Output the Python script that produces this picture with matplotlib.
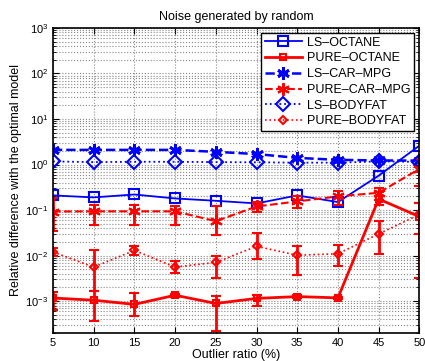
import numpy as np
import matplotlib
matplotlib.use('Agg')
from matplotlib import pyplot as plt
from matplotlib.ticker import LogLocator, NullFormatter, FixedLocator

plt.rcParams['font.family'] = ['Liberation Sans', 'DejaVu Sans']

ratio = [5, 10, 15, 20, 25, 30, 35, 40, 45, 50]

ls_octane = [0.21, 0.19, 0.22, 0.18, 0.16, 0.14, 0.21, 0.15, 0.57, 2.6]
ls_carmpg = [2.1, 2.1, 2.1, 2.1, 1.9, 1.7, 1.4, 1.27, 1.23, 1.22]
ls_bodyfat = [1.17, 1.13, 1.15, 1.15, 1.13, 1.12, 1.1, 1.1, 1.17, 1.15]

pure_octane = [0.00117, 0.00105, 0.00085, 0.00135, 0.00089, 0.00115, 0.00126, 0.00118, 0.175, 0.072]
pure_octane_lo = [0.00065, 0.00037, 0.00047, 0.00125, 0.00022, 0.0008, 0.00118, 0.0011, 0.13, 0.0033]
pure_octane_hi = [0.0016, 0.0017, 0.0015, 0.00145, 0.0013, 0.0014, 0.00134, 0.00126, 0.25, 0.14]

pure_carmpg = [0.093, 0.094, 0.094, 0.094, 0.057, 0.12, 0.155, 0.2, 0.24, 0.8]
pure_carmpg_lo = [0.034, 0.046, 0.046, 0.046, 0.028, 0.093, 0.11, 0.13, 0.17, 0.33]
pure_carmpg_hi = [0.18, 0.13, 0.13, 0.12, 0.125, 0.15, 0.2, 0.26, 0.31, 1.3]

pure_bodyfat = [0.012, 0.0056, 0.013, 0.0056, 0.0071, 0.016, 0.0102, 0.011, 0.030, 0.08]
pure_bodyfat_lo = [0.0098, 0.0017, 0.0105, 0.0042, 0.0033, 0.0085, 0.0037, 0.0058, 0.0106, 0.03]
pure_bodyfat_hi = [0.015, 0.013, 0.016, 0.0078, 0.01, 0.031, 0.016, 0.0167, 0.058, 0.14]

yticks = [1e-3, 1e-2, 1e-1, 1e0, 1e1, 1e2, 1e3]


def yerr(v, lo, hi):
    v = np.array(v)
    return [v - np.array(lo), np.array(hi) - v]


asterisk = (6, 2, 0)

fig = plt.figure(figsize=(4.25, 3.61), dpi=100)
ax = fig.add_axes([0.1247, 0.0776, 0.862, 0.845])

h1, = ax.plot(ratio, ls_octane, color='blue', ls='-', lw=1.3, marker='s', ms=7,
              mfc='none', mew=1.5, label='LS\u2013OCTANE')
e2 = ax.errorbar(ratio, pure_octane, yerr=yerr(pure_octane, pure_octane_lo, pure_octane_hi),
                 color='red', ls='-', lw=2, marker='s', ms=4, mfc='none', mew=1.5,
                 elinewidth=2, capsize=3.5, capthick=2, label='PURE\u2013OCTANE')
h3, = ax.plot(ratio, ls_carmpg, color='blue', ls='--', lw=1.8, marker=asterisk, ms=9,
              mew=2, label='LS\u2013CAR\u2013MPG')
e4 = ax.errorbar(ratio, pure_carmpg, yerr=yerr(pure_carmpg, pure_carmpg_lo, pure_carmpg_hi),
                 color='red', ls='--', lw=1.5, marker=asterisk, ms=9, mew=1.5,
                 elinewidth=2, capsize=3.5, capthick=2, label='PURE\u2013CAR\u2013MPG')
h5, = ax.plot(ratio, ls_bodyfat, color='blue', ls=':', lw=1.3, marker='D', ms=7,
              mfc='none', mew=1.5, label='LS\u2013BODYFAT')
e6 = ax.errorbar(ratio, pure_bodyfat, yerr=yerr(pure_bodyfat, pure_bodyfat_lo, pure_bodyfat_hi),
                 color='red', ls=':', lw=1.2, marker='D', ms=4, mfc='none', mew=1.5,
                 elinewidth=2, capsize=3.5, capthick=2, label='PURE\u2013BODYFAT')

ax.set_yscale('log')
ax.set_xlim(5, 50)
ax.set_ylim(2e-4, 1e3)
ax.set_xticks(ratio)
ax.yaxis.set_major_locator(FixedLocator(yticks))
ax.yaxis.set_minor_locator(LogLocator(base=10, subs=np.arange(2, 10), numticks=20))
ax.yaxis.set_minor_formatter(NullFormatter())
ax.tick_params(which='both', direction='in', top=True, right=True, labelsize=8)
ax.tick_params(which='major', length=4)
ax.tick_params(which='minor', length=2)
ax.grid(True, which='major', ls=':', color='#888888', lw=0.8)
ax.grid(True, which='minor', axis='y', ls=':', color='#888888', lw=0.8)
for s in ax.spines.values():
    s.set_linewidth(1.2)

ax.set_title('Noise generated by random', fontsize=9)
ax.set_xlabel('Outlier ratio (%)', fontsize=9, labelpad=1)
ax.set_ylabel('Relative difference with the optimal model', fontsize=9, labelpad=2)

handles = [h1, e2[0], h3, e4[0], h5, e6[0]]
labels = ['LS\u2013OCTANE', 'PURE\u2013OCTANE', 'LS\u2013CAR\u2013MPG',
          'PURE\u2013CAR\u2013MPG', 'LS\u2013BODYFAT', 'PURE\u2013BODYFAT']
leg = ax.legend(handles, labels, loc='upper right', fontsize=9, fancybox=False,
                framealpha=1, edgecolor='black', handlelength=3, borderaxespad=0.4,
                labelspacing=0.3, borderpad=0.3, handletextpad=0.4)
leg.get_frame().set_linewidth(1)

fig.savefig('out.png', dpi=100)
